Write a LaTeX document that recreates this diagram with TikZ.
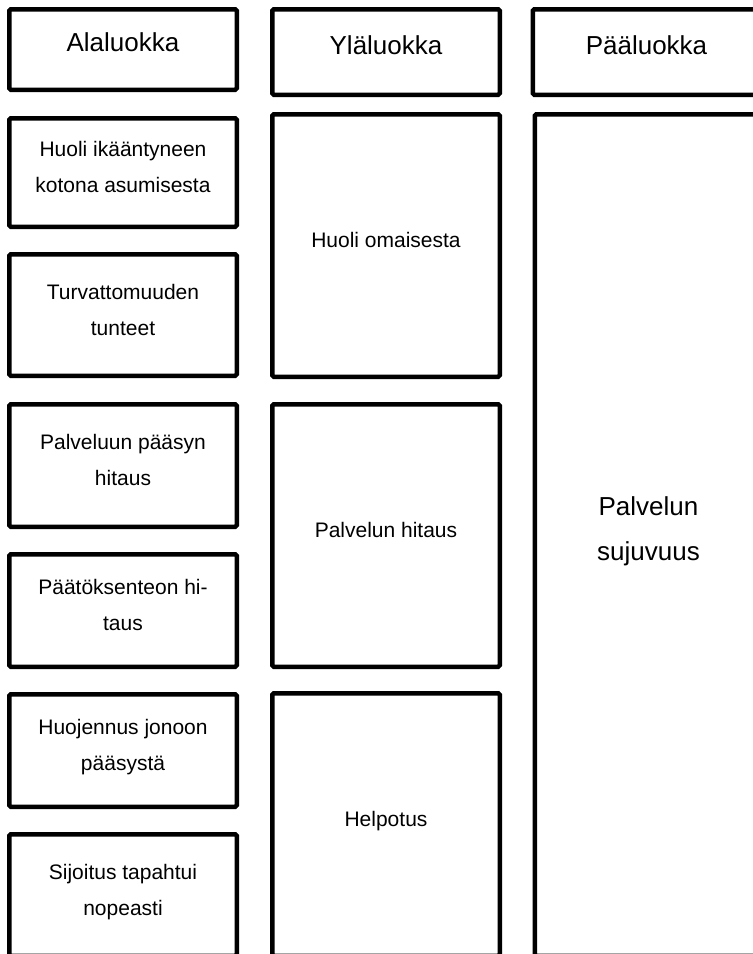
\documentclass[tikz,border=0pt]{standalone}
\usepackage{fontspec}
\setmainfont{Liberation Sans}

\begin{document}
\begin{tikzpicture}[
  x=1pt, y=-1pt,
  box/.style={draw, line width=4.5pt, rounded corners=1.5pt, minimum width=227.5pt, inner sep=0pt, align=center},
  head/.style={box, font=\fontsize{26}{45}\selectfont, text depth=14pt},
  sub/.style={box, font=\fontsize{21}{36}\selectfont, text depth=11pt},
  mid/.style={box, minimum height=262.5pt, font=\fontsize{21}{36}\selectfont, text depth=12pt}]

  \useasboundingbox (0,0) rectangle (753,954);
  \clip (0,0) rectangle (753,954);

  % --- headers (row 0) ---
  \node[head, minimum height=80.5pt] (ala) at (123,49.5) {Alaluokka};
  \node[head, minimum height=85.5pt] (yla) at (386,52)   {Yläluokka};
  \node[head, minimum height=85.5pt] (paa) at (646.5,52) {Pääluokka};

  % --- alaluokat (left column) ---
  \node[sub, minimum height=108.5pt] (huoli)    at (123,172.5) {Huoli ikääntyneen\\kotona asumisesta};
  \node[sub, minimum height=121.5pt] (turva)    at (123,315)   {Turvattomuuden\\tunteet};
  \node[sub, minimum height=122.5pt] (paasy)    at (123,465.5) {Palveluun pääsyn\\hitaus};
  \node[sub, minimum height=112.5pt] (paatos)   at (123,610.5) {Päätöksenteon hi-\\taus};
  \node[sub, minimum height=112.5pt] (huoj)     at (123,750.5) {Huojennus jonoon\\pääsystä};
  \node[sub, minimum height=121.5pt] (sijoitus) at (123,895)   {Sijoitus tapahtui\\nopeasti};

  % --- yläluokat (middle column) ---
  \node[mid] (omainen)  at (386,245.5) {Huoli omaisesta};
  \node[mid] (hitaus)   at (386,535.5) {Palvelun hitaus};
  \node[mid] (helpotus) at (386,824.5) {Helpotus};

  % --- pääluokka (right column) ---
  \node[box, minimum height=841.5pt, font=\fontsize{26}{45}\selectfont, text depth=12pt] (sujuvuus)
    at (648.5,535) {Palvelun\\sujuvuus};
\end{tikzpicture}
\end{document}
